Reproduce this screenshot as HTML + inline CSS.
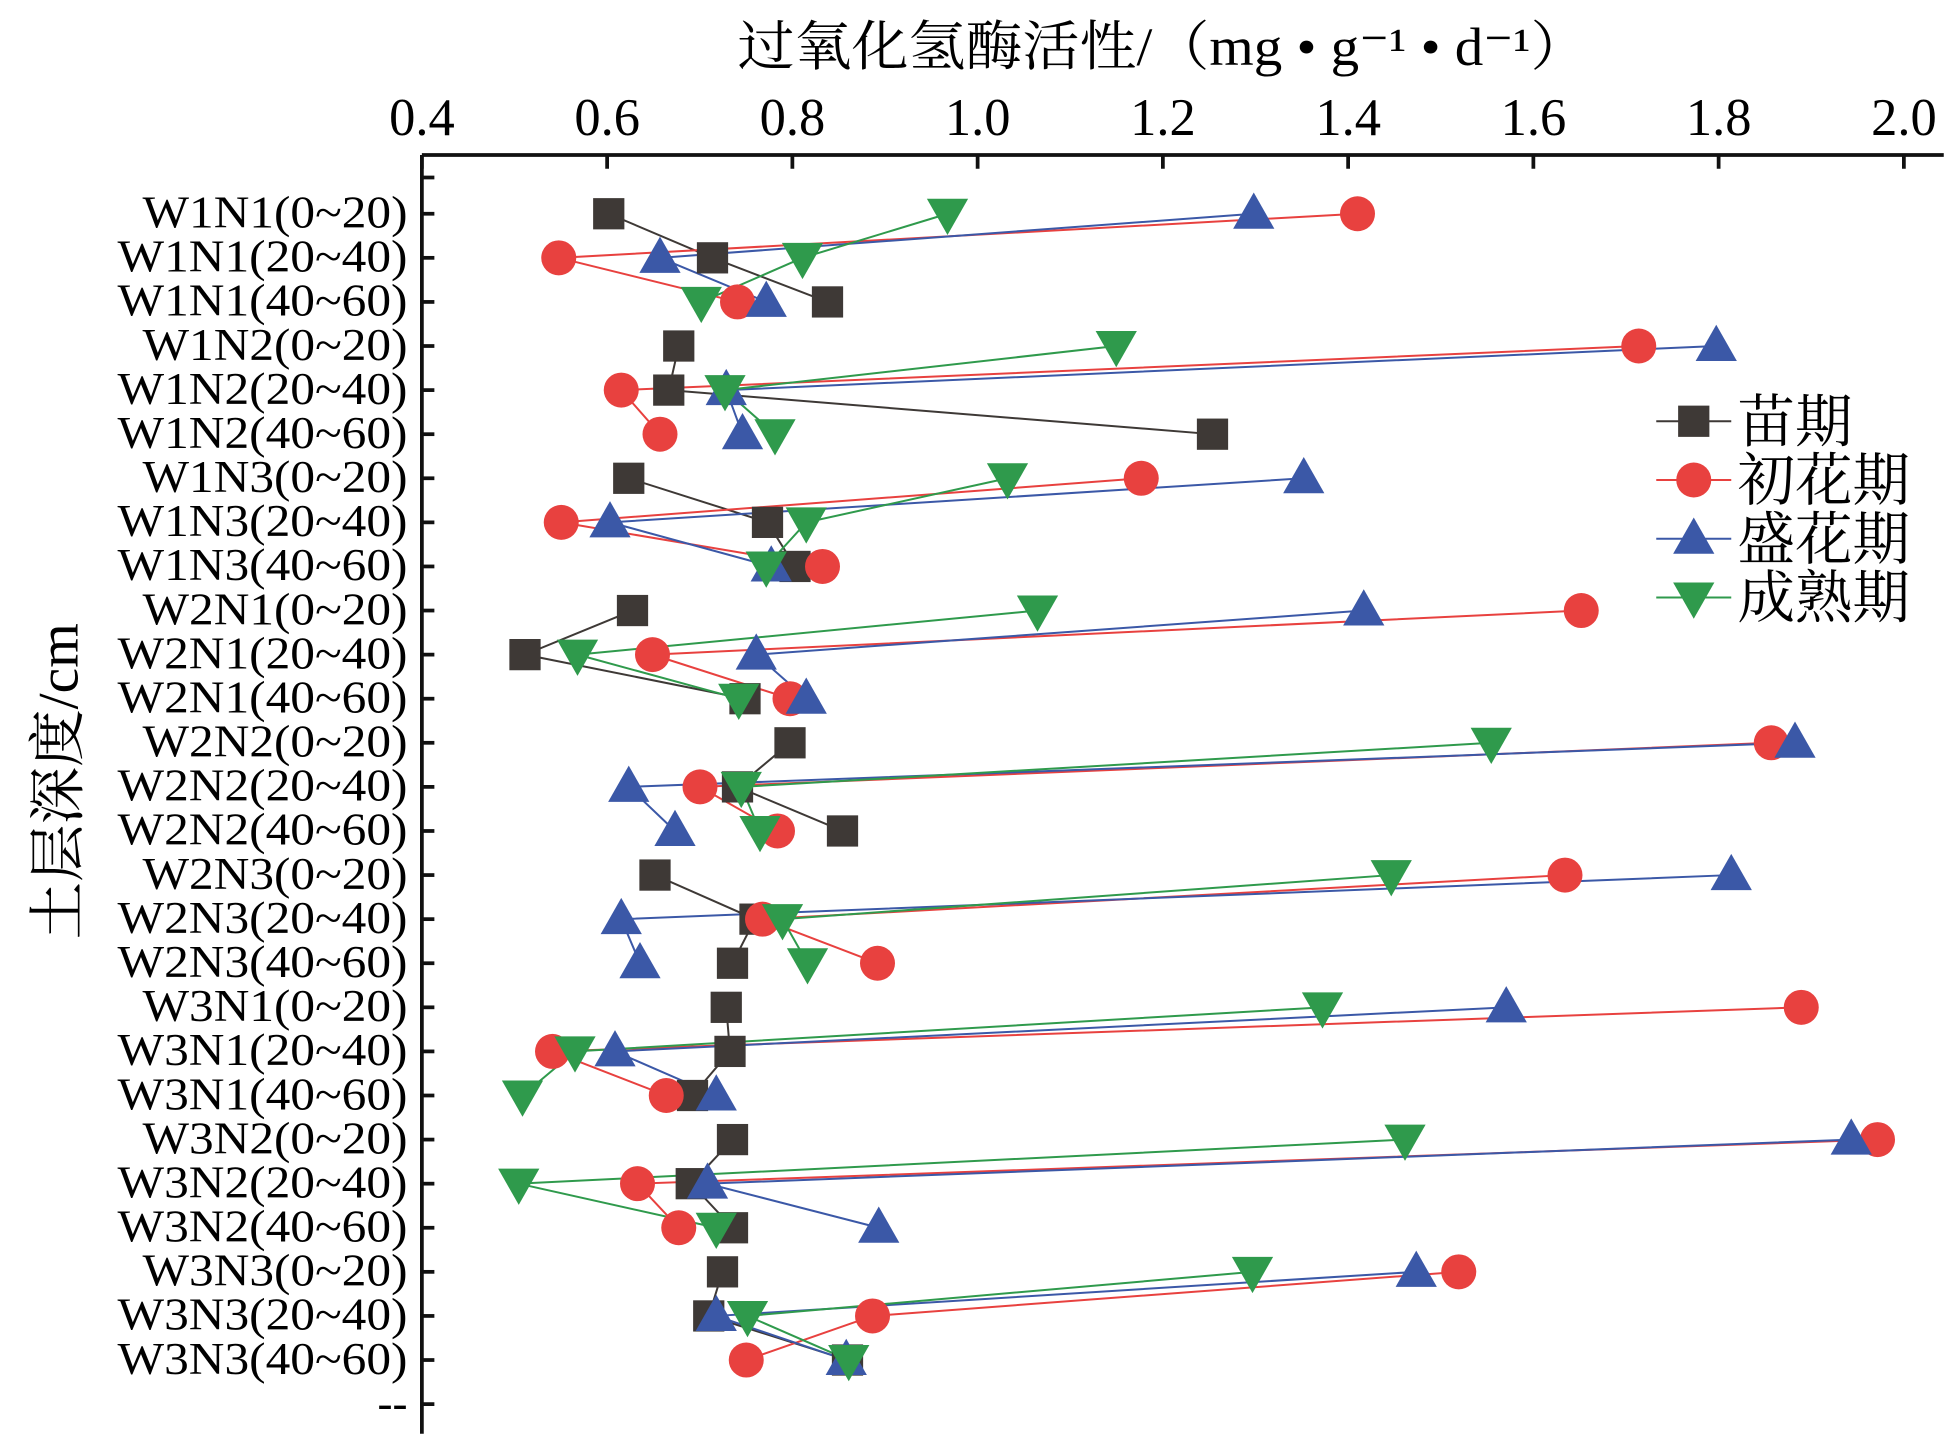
<!DOCTYPE html>
<html><head><meta charset="utf-8"><style>html,body{margin:0;padding:0;background:#fff}svg{display:block}</style></head>
<body>
<svg id="c" xmlns="http://www.w3.org/2000/svg" width="1960" height="1444" viewBox="0 0 1568 1155.2">
<rect width="1568" height="1156" fill="#fff"/>
</svg>
<script>
const s=document.getElementById('c');const NS='http://www.w3.org/2000/svg';
function el(t,a,txt){const e=document.createElementNS(NS,t);for(const k in a)e.setAttribute(k,a[k]);if(txt!==undefined)e.textContent=txt;s.appendChild(e);return e;}
const X0=337.5,Y0=124,K=148.2;
el('line',{x1:X0,y1:Y0,x2:1555,y2:Y0,stroke:'#111','stroke-width':3});
el('line',{x1:X0,y1:Y0,x2:X0,y2:1147,stroke:'#111','stroke-width':3});
const tl=['0.4','0.6','0.8','1.0','1.2','1.4','1.6','1.8','2.0'];
tl.forEach((t,i)=>{const x=X0+i*K;el('line',{x1:x,y1:Y0,x2:x,y2:Y0+11,stroke:'#111','stroke-width':3});
el('text',{x:x,y:108,'font-family':'Liberation Serif, serif','font-size':42,'text-anchor':'middle'},t);});
const rows=[];for(const w of [1,2,3])for(const n of [1,2,3])for(const d of ['0~20','20~40','40~60'])rows.push(`W${w}N${n}(${d})`);
rows.push('--');
const dy=35.27,ry=i=>171+i*dy;
el('line',{x1:X0,y1:142,x2:X0+10,y2:142,stroke:'#111','stroke-width':3});
rows.forEach((r,i)=>{const y=ry(i);el('line',{x1:X0,y1:y,x2:X0+10,y2:y,stroke:'#111','stroke-width':3});
const a={x:326,y:y+11,'font-family':'Liberation Serif, serif','font-size':36,'text-anchor':'end'};
if(r!='--'){a.textLength=r.includes('(0~')?212:232;a.lengthAdjust='spacingAndGlyphs';}
el('text',a,r);});
el('text',{x:590,y:52,'font-family':'Liberation Serif, Noto Serif CJK SC, serif','font-size':43,textLength:680,lengthAdjust:'spacingAndGlyphs'},'过氧化氢酶活性/（mg • g⁻¹ • d⁻¹）');
el('text',{x:0,y:0,transform:'translate(62,625) rotate(-90)','font-family':'Liberation Serif, Noto Serif CJK SC, serif','font-size':46,'text-anchor':'middle'},'土层深度/cm');
const data={
k:[487,570,662,543,535,970,503,614,636,506,420,596,632,590,674,524,604,586,581,584,554,586,553,586,578,567,678],
r:[1086,447,590,1311,497,528,913,449,658,1265,522,632,1417,560,622,1252,610,702,1441,442,533,1502,510,543,1167,698,597],
b:[1003,528,613,1373,581,594,1043,488,617,1091,605,645,1436,503,540,1385,497,512,1205,492,573,1481,566,703,1133,573,677],
g:[758,642,561,893,580,620,806,645,613,830,462,591,1193,593,608,1113,626,646,1058,460,418,1124,415,573,1002,598,679]};
const col={k:'#3e3936',r:'#e8413f',b:'#3b58a7',g:'#2f9a4c'};
function mk(t,x,y){const c=col[t];
if(t=='k')el('rect',{x:x-12.5,y:y-12.5,width:25,height:25,fill:c});
else if(t=='r')el('circle',{cx:x,cy:y,r:14,fill:c});
else if(t=='b')el('polygon',{points:`${x},${y-17} ${x-16.5},${y+12} ${x+16.5},${y+12}`,fill:c});
else el('polygon',{points:`${x},${y+17} ${x-16.5},${y-12} ${x+16.5},${y-12}`,fill:c});}
const order=['k','r','b','g'];
order.forEach(t=>{for(let g=0;g<9;g++){const p=[0,1,2].map(j=>`${data[t][g*3+j]},${ry(g*3+j)}`).join(' ');
el('polyline',{points:p,fill:'none',stroke:col[t],'stroke-width':1.6});}});
order.forEach(t=>{data[t].forEach((x,i)=>mk(t,x,ry(i)));});
const lg=[['k','苗期'],['r','初花期'],['b','盛花期'],['g','成熟期']];
lg.forEach(([t,n],i)=>{const y=337+i*47;el('line',{x1:1325,y1:y,x2:1385,y2:y,stroke:col[t],'stroke-width':1.6});mk(t,1355,y);
el('text',{x:1390,y:y+16,'font-family':'Liberation Serif, Noto Serif CJK SC, serif','font-size':46},n);});
</script>
</body></html>
